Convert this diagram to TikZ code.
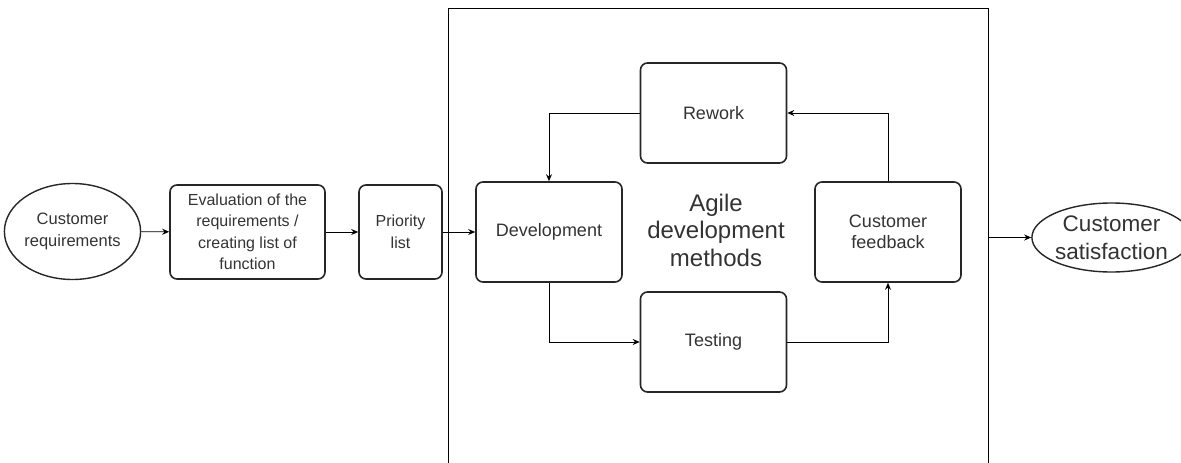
\documentclass[tikz,border=0pt]{standalone}
\usepackage{fontspec}
\setmainfont{Liberation Sans}
\usetikzlibrary{arrows.meta,shapes.geometric}
\definecolor{ink}{HTML}{333333}
\tikzset{
  box/.style={draw=black!85, line width=1.6pt, rounded corners=7pt, align=center,
    text=ink, font=\fontsize{16}{21.5}\selectfont, inner sep=0pt},
  cyclebox/.style={box, minimum width=146pt, minimum height=100pt,
    font=\fontsize{18}{21.5}\selectfont},
  oval/.style={draw=black!85, line width=1.4pt, ellipse, align=center, inner sep=0pt,
    text=ink},
  link/.style={draw=black, line width=0.9pt, -{Stealth[length=7pt,width=6pt]}},
}
\begin{document}
\begin{tikzpicture}[x=1pt,y=-1pt]
  \useasboundingbox (0,0) rectangle (1181,463);
  % frame of the agile cycle (runs past the lower edge)
  \node[draw=black, line width=1pt, minimum width=540pt, minimum height=480pt,
        inner sep=0pt, anchor=north west] (agile) at (448,8) {};
  \node[text=ink, align=center, font=\fontsize{24}{27.5}\selectfont] (title) at (716,230)
       {Agile\\development\\methods};

  \node[oval, minimum width=129pt, minimum height=96pt, font=\fontsize{16.5}{21.5}\selectfont]
       (creq) at (72.5,231.5) {Customer\\requirements};
  \node[box, minimum width=155pt, minimum height=94pt] (eval) at (247.5,232)
       {Evaluation of the\\requirements /\\creating list of\\function};
  \node[box, minimum width=83pt, minimum height=94pt] (prio) at (400.5,232)
       {Priority\\list};

  \node[cyclebox] (dev) at (549,232) {Development};
  \node[cyclebox] (rework) at (713.5,113) {Rework};
  \node[cyclebox] (test) at (713.5,342) {Testing};
  \node[cyclebox] (fb) at (888,232) {Customer\\feedback};

  \node[oval, minimum width=137pt, minimum height=69pt, font=\fontsize{22.5}{28}\selectfont]
       (csat) at (1111.5,237.5) {Customer\\satisfaction};

  \draw[link] (creq) -- (eval);
  \draw[link] (eval) -- (prio);
  \draw[link] (prio) -- (dev);
  \draw[link] (rework.west) -| (dev.north);
  \draw[link] (dev.south) |- (test.west);
  \draw[link] (test.east) -| (fb.south);
  \draw[link] (fb.north) |- (rework.east);
  \draw[link] (agile.east |- csat.west) -- (csat.west);
\end{tikzpicture}
\end{document}
